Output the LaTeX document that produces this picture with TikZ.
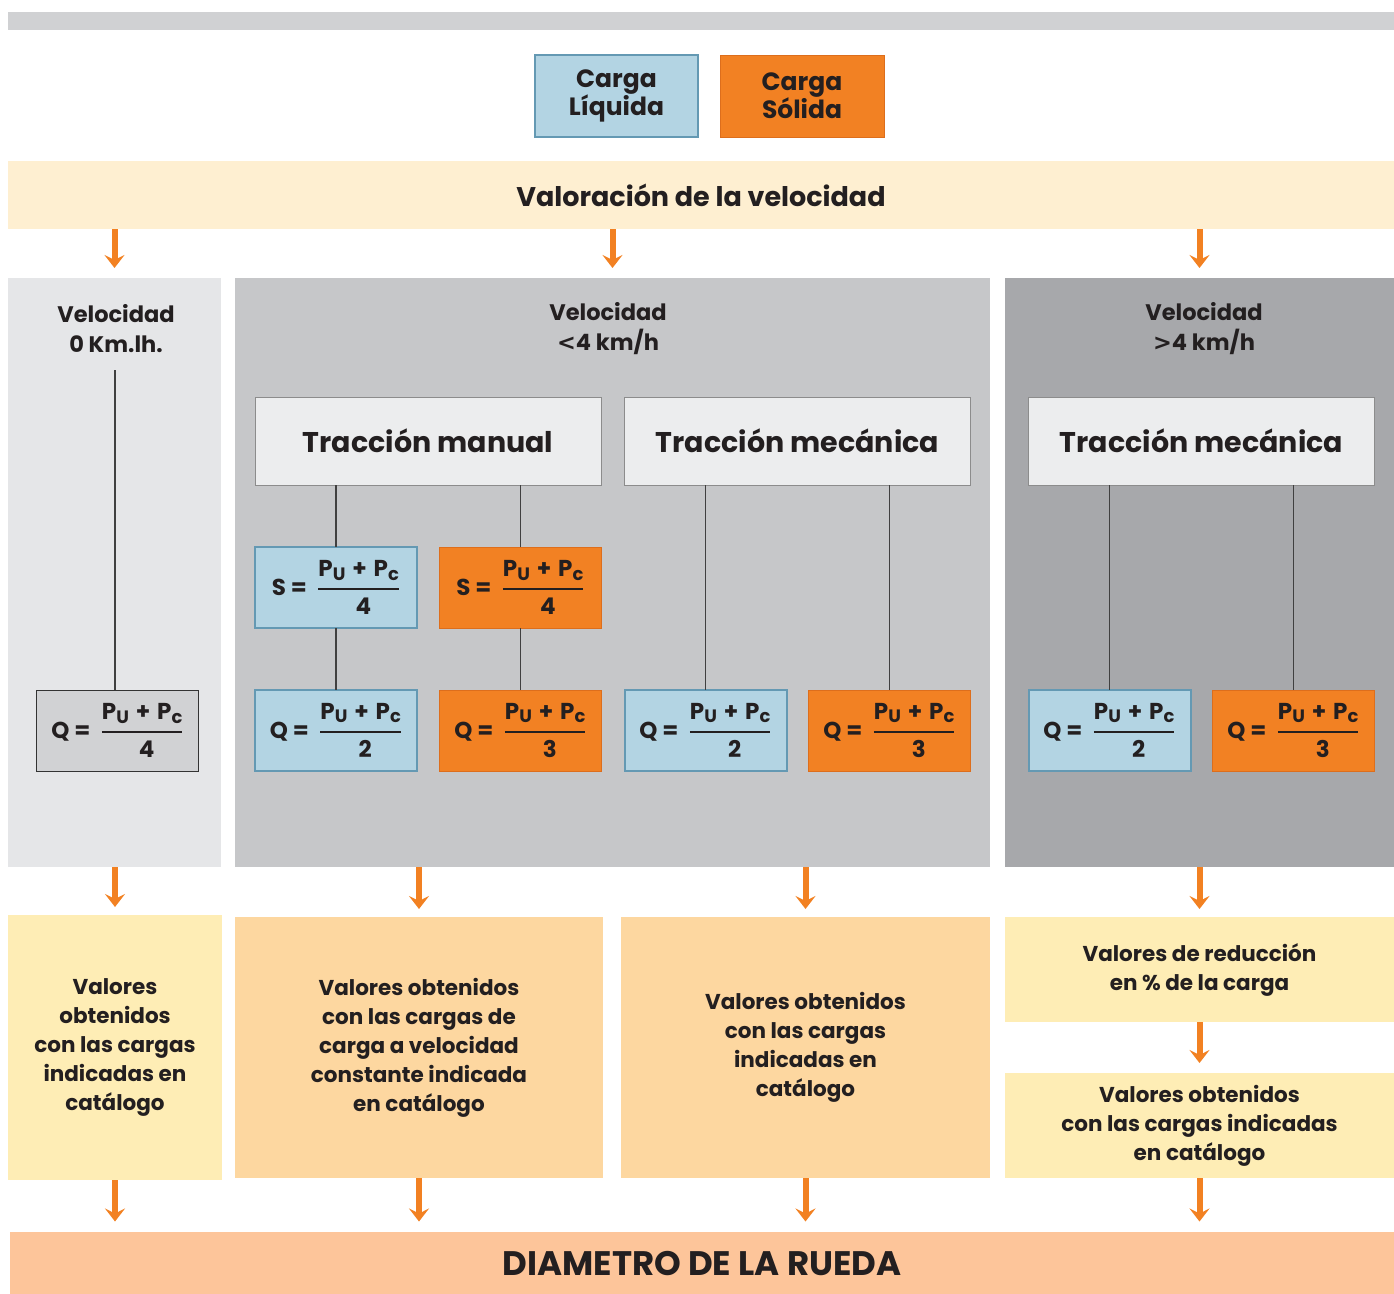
\documentclass[tikz,border=0pt]{standalone}
\usepackage{fontspec}
\setmainfont{Poppins}
\newfontfamily\relfont{DejaVu Sans}
\usepackage{amsmath}
\usetikzlibrary{arrows.meta}

\definecolor{topgrey}{HTML}{D0D1D3}
\definecolor{liqblue}{HTML}{B3D4E3}
\definecolor{liqedge}{HTML}{6499B3}
\definecolor{solorange}{HTML}{F28123}
\definecolor{soledge}{HTML}{DD6E1C}
\definecolor{bandcream}{HTML}{FEEFD1}
\definecolor{panelA}{HTML}{E5E6E8}
\definecolor{panelB}{HTML}{C6C7C9}
\definecolor{panelC}{HTML}{A7A8AB}
\definecolor{tracfill}{HTML}{ECEDEE}
\definecolor{qgrey}{HTML}{D1D2D4}
\definecolor{resyellow}{HTML}{FEEDB5}
\definecolor{respeach}{HTML}{FDD7A0}
\definecolor{diamfill}{HTML}{FDC59A}
\definecolor{arroworange}{HTML}{F28122}
\definecolor{inkdark}{HTML}{231F20}

% subscript letter, a bit larger than \textsubscript
\newcommand{\lowsub}[1]{\raisebox{-0.28ex}{\scalebox{0.78}{#1}}}
% formula: lhs = (Pu + Pc) / den
\newcommand{\ruedafrac}[2]{$\text{#1 =}\hspace{0.45em}\genfrac{}{}{2.5pt}{0}{\text{P\lowsub{U}\hspace{0.3em}+\hspace{0.3em}P\lowsub{c}}}{\text{\hspace{0.4em}#2}}$}

\begin{document}
\begin{tikzpicture}[x=1pt, y=-1pt, font=\bfseries, text=inkdark,
  plate/.style={inner sep=0pt, outer sep=0pt, align=center},
  txt/.style={font=\bfseries\fontsize{21.5}{29}\selectfont},
  liquida/.style={plate, fill=liqblue, draw=liqedge, line width=2pt},
  solida/.style={plate, fill=solorange, draw=soledge, line width=1pt},
  formbox/.style={minimum width=162, minimum height=81, font=\bfseries\fontsize{23}{26}\selectfont},
  traccion/.style={plate, fill=tracfill, draw=black!45, line width=1pt,
    minimum width=346, minimum height=88, font=\bfseries\fontsize{28.5}{32}\selectfont},
  link/.style={draw=black!75, line width=1.5pt},
  flecha/.style={draw=arroworange, line width=6pt,
    -{Stealth[length=13pt, width=20pt, inset=5pt, color=arroworange]}}]

  \useasboundingbox (0,0) rectangle (1394,1293);

  % top bar
  \fill [topgrey] (8,12) rectangle (1394,30);

  % legend
  \node [liquida, minimum width=163, minimum height=82, font=\bfseries\fontsize{25}{28}\selectfont] (liq) at (616.5,96) {Carga\\Líquida};
  \node [solida, minimum width=164, minimum height=82, font=\bfseries\fontsize{25}{28}\selectfont] (sol) at (802,96) {Carga\\Sólida};

  % speed band
  \node [plate, fill=bandcream, minimum width=1386, minimum height=68,
    font=\bfseries\fontsize{27}{30}\selectfont] (valor) at (701,195) {Valoración de la velocidad};

  % panels
  \node [plate, fill=panelA, minimum width=213, minimum height=589] (p0) at (114.5,572.5) {};
  \node [plate, fill=panelB, minimum width=755, minimum height=589] (p1) at (612.5,572.5) {};
  \node [plate, fill=panelC, minimum width=389, minimum height=589] (p2) at (1199.5,572.5) {};

  % speed labels
  \node [plate, font=\bfseries\fontsize{22.5}{30}\selectfont] (v0) at (116,329) {Velocidad\\0 Km.lh.};
  \node [plate, font=\bfseries\fontsize{22.5}{30}\selectfont] (v1) at (608,329) {Velocidad\\{\relfont <}4 km/h};
  \node [plate, font=\bfseries\fontsize{22.5}{30}\selectfont] (v2) at (1204,329) {Velocidad\\{\relfont >}4 km/h};

  % traction boxes
  \node [traccion] (tman) at (428,441) {Tracción manual};
  \node [traccion] (tmec) at (797.5,441) {Tracción mecánica};
  \node [traccion] (tmecb) at (1201.5,441) {Tracción mecánica};

  % S formulas
  \node [liquida, formbox] (s1) at (336,587.5) {\ruedafrac{S}{4}};
  \node [solida, formbox] (s2) at (520.5,587.5) {\ruedafrac{S}{4}};

  % Q formulas
  \node [plate, fill=qgrey, draw=black!80, line width=1pt, formbox] (q0) at (117.5,730.5) {\ruedafrac{Q}{4}};
  \node [liquida, formbox] (q1) at (336,730.5) {\ruedafrac{Q}{2}};
  \node [solida, formbox] (q2) at (520.5,730.5) {\ruedafrac{Q}{3}};
  \node [liquida, formbox] (q3) at (705.5,730.5) {\ruedafrac{Q}{2}};
  \node [solida, formbox] (q4) at (889.5,730.5) {\ruedafrac{Q}{3}};
  \node [liquida, formbox] (q5) at (1109.5,730.5) {\ruedafrac{Q}{2}};
  \node [solida, formbox] (q6) at (1293.5,730.5) {\ruedafrac{Q}{3}};

  % connecting lines
  \coordinate (v0end) at (115,370);
  \draw [link] (v0end) -- (v0end |- q0.north);
  \draw [link] (s1.north |- tman.south) -- (s1.north);
  \draw [link] (s1.south) -- (q1.north);
  \draw [link] (s2.north |- tman.south) -- (s2.north);
  \draw [link] (s2.south) -- (q2.north);
  \draw [link] (q3.north |- tmec.south) -- (q3.north);
  \draw [link] (q4.north |- tmec.south) -- (q4.north);
  \draw [link] (q5.north |- tmecb.south) -- (q5.north);
  \draw [link] (q6.north |- tmecb.south) -- (q6.north);

  % result boxes
  \node [plate, txt, fill=resyellow, minimum width=214, minimum height=265] (r0) at (115,1047.5)
    {Valores\\obtenidos\\con las cargas\\indicadas en\\catálogo};
  \node [plate, txt, fill=respeach, minimum width=368, minimum height=261] (r1) at (419,1047.5)
    {Valores obtenidos\\con las cargas de\\carga a velocidad\\constante indicada\\en catálogo};
  \node [plate, txt, fill=respeach, minimum width=369, minimum height=261] (r2) at (805.5,1047.5)
    {Valores obtenidos\\con las cargas\\indicadas en\\catálogo};
  \node [plate, txt, fill=resyellow, minimum width=389, minimum height=105] (r3) at (1199.5,969.5)
    {Valores de reducción\\en \% de la carga};
  \node [plate, txt, fill=resyellow, minimum width=389, minimum height=105] (r4) at (1199.5,1125.5)
    {Valores obtenidos\\con las cargas indicadas\\en catálogo};

  % wheel diameter band
  \node [plate, fill=diamfill, minimum width=1384, minimum height=63,
    font=\bfseries\fontsize{34}{38}\selectfont] (diam) at (702,1263) {DIAMETRO DE LA RUEDA};

  % arrows from speed band
  \draw [flecha, shorten >=10pt] (valor.south -| p0.north) -- (p0.north);
  \draw [flecha, shorten >=10pt] (valor.south -| p1.north) -- (p1.north);
  \draw [flecha, shorten >=10pt] (valor.south -| p2.north) -- (p2.north);
  % arrows from panels
  \draw [flecha, shorten >=8pt] (p0.south -| r0.north) -- (r0.north);
  \draw [flecha, shorten >=8pt] (p1.south -| r1.north) -- (r1.north);
  \draw [flecha, shorten >=8pt] (p1.south -| r2.north) -- (r2.north);
  \draw [flecha, shorten >=8pt] (p2.south) -- (r3.north);
  \draw [flecha, shorten >=10pt] (r3.south) -- (r4.north);
  % arrows into diameter band
  \draw [flecha, shorten >=10pt] (r0.south) -- (r0.south |- diam.north);
  \draw [flecha, shorten >=10pt] (r1.south) -- (r1.south |- diam.north);
  \draw [flecha, shorten >=10pt] (r2.south) -- (r2.south |- diam.north);
  \draw [flecha, shorten >=10pt] (r4.south) -- (r4.south |- diam.north);
\end{tikzpicture}
\end{document}
